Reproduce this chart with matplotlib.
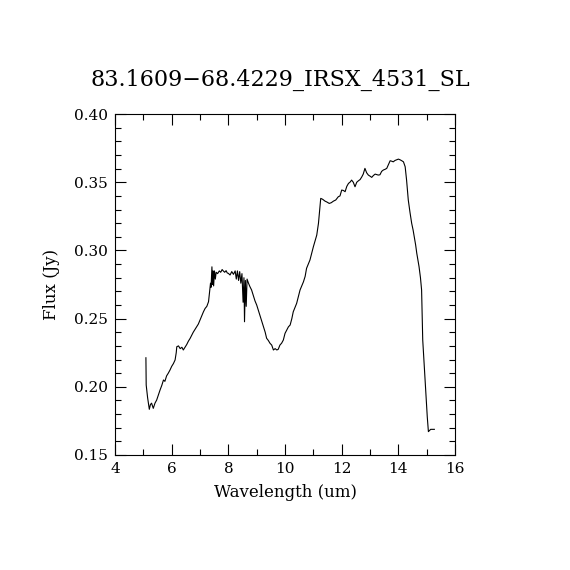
import numpy as np
import matplotlib.pyplot as plt
from matplotlib.ticker import MultipleLocator

# Spectrum: (wavelength um, flux Jy)
spectrum = [
    (5.09, 0.2213), (5.10, 0.2013), (5.15, 0.1920), (5.21, 0.1835), (5.25, 0.1870),
    (5.29, 0.1880), (5.35, 0.1842), (5.41, 0.1880), (5.47, 0.1903), (5.53, 0.1940),
    (5.59, 0.1977), (5.65, 0.2010), (5.71, 0.2050), (5.76, 0.2040), (5.82, 0.2080),
    (5.88, 0.2100), (5.94, 0.2123), (6.00, 0.2150), (6.06, 0.2170), (6.12, 0.2197),
    (6.16, 0.2250), (6.18, 0.2294), (6.24, 0.2300), (6.30, 0.2280), (6.36, 0.2290),
    (6.41, 0.2270), (6.47, 0.2290), (6.53, 0.2310), (6.59, 0.2335), (6.65, 0.2355),
    (6.71, 0.2380), (6.76, 0.2400), (6.82, 0.2420), (6.88, 0.2440), (6.94, 0.2460),
    (7.00, 0.2490), (7.06, 0.2520), (7.12, 0.2550), (7.18, 0.2575), (7.24, 0.2590),
    (7.30, 0.2624), (7.34, 0.2700), (7.37, 0.2760), (7.39, 0.2730), (7.42, 0.2880),
    (7.44, 0.2750), (7.46, 0.2850), (7.48, 0.2740), (7.51, 0.2850), (7.54, 0.2790),
    (7.57, 0.2840), (7.62, 0.2830), (7.68, 0.2850), (7.73, 0.2840), (7.78, 0.2860),
    (7.82, 0.2850), (7.87, 0.2840), (7.92, 0.2852), (7.96, 0.2835), (8.00, 0.2832),
    (8.06, 0.2820), (8.12, 0.2845), (8.18, 0.2825), (8.24, 0.2850), (8.28, 0.2790),
    (8.32, 0.2850), (8.36, 0.2780), (8.40, 0.2845), (8.44, 0.2760), (8.48, 0.2830),
    (8.52, 0.2620), (8.55, 0.2800), (8.57, 0.2477), (8.60, 0.2780), (8.63, 0.2590),
    (8.66, 0.2790), (8.71, 0.2760), (8.76, 0.2735), (8.82, 0.2710), (8.88, 0.2670),
    (8.94, 0.2630), (9.00, 0.2600), (9.06, 0.2560), (9.12, 0.2520), (9.18, 0.2480),
    (9.24, 0.2440), (9.30, 0.2400), (9.35, 0.2356), (9.41, 0.2340), (9.47, 0.2319),
    (9.53, 0.2306), (9.59, 0.2270), (9.65, 0.2280), (9.71, 0.2270), (9.76, 0.2275),
    (9.82, 0.2306), (9.88, 0.2320), (9.94, 0.2343), (10.00, 0.2392), (10.06, 0.2416),
    (10.12, 0.2440), (10.18, 0.2453), (10.24, 0.2500), (10.29, 0.2550), (10.35, 0.2580),
    (10.41, 0.2612), (10.47, 0.2660), (10.53, 0.2710), (10.59, 0.2740), (10.65, 0.2770),
    (10.71, 0.2810), (10.76, 0.2869), (10.82, 0.2900), (10.88, 0.2930), (10.94, 0.2980),
    (11.00, 0.3027), (11.06, 0.3070), (11.12, 0.3113), (11.18, 0.3199), (11.22, 0.3290),
    (11.26, 0.3382), (11.33, 0.3375), (11.41, 0.3362), (11.48, 0.3355), (11.56, 0.3345),
    (11.63, 0.3350), (11.71, 0.3362), (11.79, 0.3370), (11.88, 0.3394), (11.94, 0.3400),
    (12.00, 0.3443), (12.06, 0.3440), (12.12, 0.3431), (12.18, 0.3470), (12.24, 0.3492),
    (12.29, 0.3500), (12.35, 0.3516), (12.41, 0.3500), (12.47, 0.3467), (12.53, 0.3500),
    (12.59, 0.3511), (12.65, 0.3520), (12.71, 0.3540), (12.76, 0.3560), (12.82, 0.3602),
    (12.88, 0.3570), (12.94, 0.3553), (13.00, 0.3545), (13.06, 0.3536), (13.12, 0.3550),
    (13.18, 0.3560), (13.24, 0.3556), (13.29, 0.3553), (13.35, 0.3555), (13.41, 0.3580),
    (13.47, 0.3590), (13.53, 0.3595), (13.59, 0.3602), (13.65, 0.3630), (13.71, 0.3658),
    (13.76, 0.3655), (13.82, 0.3650), (13.88, 0.3660), (13.94, 0.3665), (14.00, 0.3670),
    (14.06, 0.3665), (14.12, 0.3658), (14.18, 0.3650), (14.24, 0.3614), (14.29, 0.3516),
    (14.35, 0.3370), (14.41, 0.3280), (14.47, 0.3199), (14.52, 0.3150), (14.56, 0.3100),
    (14.61, 0.3040), (14.65, 0.2979), (14.69, 0.2930), (14.73, 0.2881), (14.78, 0.2800),
    (14.82, 0.2710), (14.86, 0.2343), (14.90, 0.2200), (14.94, 0.2050), (14.98, 0.1900),
    (15.02, 0.1780), (15.06, 0.1671), (15.10, 0.1680), (15.14, 0.1688), (15.20, 0.1688),
    (15.27, 0.1688),
]
wavelength = [w for w, f in spectrum]
flux = [f for w, f in spectrum]

title = '83.1609\u221268.4229_IRSX_4531_SL'

plt.rcParams['font.family'] = ['DejaVu Serif']

fig = plt.figure(figsize=(5.7, 5.7), dpi=100)
ax = fig.add_axes([0.2018, 0.2018, 0.5965, 0.598])

ax.plot(wavelength, flux, color='black', linewidth=0.8)

ax.set_xlim(4, 16)
ax.set_ylim(0.15, 0.40)
ax.xaxis.set_major_locator(MultipleLocator(2))
ax.xaxis.set_minor_locator(MultipleLocator(1))
ax.yaxis.set_major_locator(MultipleLocator(0.05))
ax.yaxis.set_minor_locator(MultipleLocator(0.01))
ax.yaxis.set_major_formatter(plt.FormatStrFormatter('%.2f'))
ax.tick_params(which='both', direction='in', top=True, right=True, labelsize=11, width=0.8)
ax.tick_params(which='major', length=8, pad=5)
ax.tick_params(which='minor', length=4)
for spine in ax.spines.values():
    spine.set_linewidth(0.8)

ax.set_title(title, fontsize=16, pad=20, x=0.485)
ax.set_xlabel('Wavelength (um)', fontsize=12, labelpad=6)
ax.set_ylabel('Flux (Jy)', fontsize=12, labelpad=10)

fig.savefig('out.png', dpi=100)
